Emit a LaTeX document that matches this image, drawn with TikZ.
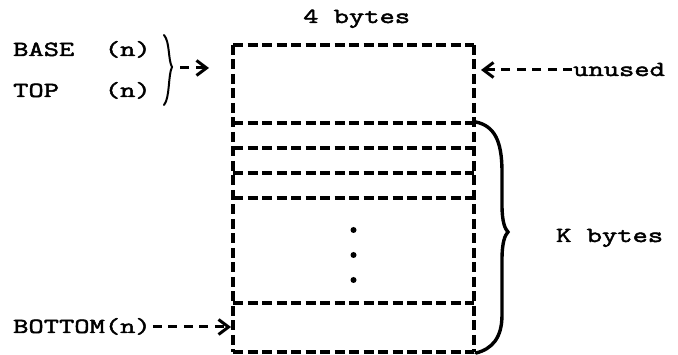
\documentclass[tikz,border=0pt]{standalone}
\usepackage{fontspec}
\setmonofont{Latin Modern Mono}[FakeStretch=1.38,FakeBold=2.2]
\usetikzlibrary{arrows.meta}
\begin{document}
\begin{tikzpicture}[x=1pt,y=-1pt,
  txt/.style={font=\ttfamily\fontsize{21.5}{24}\selectfont, inner sep=0pt, anchor=base west},
  cellline/.style={line width=3.2pt, dash pattern=on 10pt off 4.5pt},
  conn/.style={line width=3pt, dash pattern=on 9pt off 6.5pt, -{Straight Barb[length=10pt,width=15pt]}},
  bracepath/.style={line width=2pt, line cap=round},
  bigbrace/.style={line width=3.4pt, line cap=round}]
\useasboundingbox (0,0) rectangle (678,355);
% box
\coordinate (tl) at (233,45);
\coordinate (br) at (474,352);
\draw[cellline] (233,45) -- (233,352);
\draw[cellline] (474,45) -- (474,352);
\foreach \yy in {45,123,148,173,198,303,352}
  \draw[cellline] (233,\yy) -- (474,\yy);
\foreach \yy in {230,255,280}
  \fill (353.5,\yy) circle (3);
% texts
\node[txt] (bytes4) at (303,23) {4 bytes};
\node[txt] (base) at (13,56) {BASE\ \ (n)};
\node[txt] (top) at (13,97) {TOP\ \ \ (n)};
\node[txt] (unused) at (573,76) {unused};
\node[txt] (kbytes) at (556,242) {K bytes};
\node[txt] (bottom) at (13,333) {BOTTOM(n)};
% left brace
\coordinate (lbtip) at (172,67);
\draw[bracepath] (164,35) .. controls (170,42) and (168,60) .. (lbtip)
  .. controls (168,75) and (170,98) .. (164,105);
\coordinate (lbend) at (209,68);
\draw[conn, dash pattern=on 9pt off 7pt] ([xshift=8pt]lbtip |- lbend) -- (lbend);
% unused arrow
\coordinate (utip) at (481,70);
\draw[conn] ([xshift=-1pt]unused.west |- utip) -- (utip);
% bottom arrow
\coordinate (btip) at (231,327);
\draw[conn] ([xshift=2pt]bottom.east |- btip) -- (btip);
% right brace
\coordinate (rbtip) at (508,232);
\draw[bigbrace] (476,122) .. controls (494,126) and (502,140) .. (502,172)
  -- (502,205) .. controls (502,222) and (505,229) .. (rbtip)
  .. controls (505,235) and (502,242) .. (502,260)
  -- (502,315) .. controls (502,338) and (492,349) .. (476,353);
\end{tikzpicture}
\end{document}
